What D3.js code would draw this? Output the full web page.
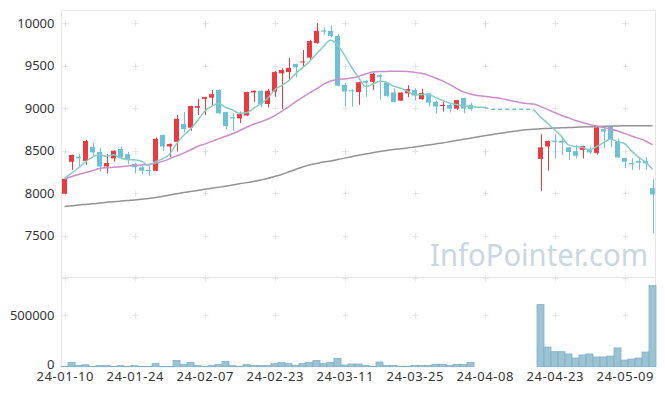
<!DOCTYPE html>
<html>
<head>
<meta charset="utf-8">
<script src="https://cdn.jsdelivr.net/npm/d3@7"></script>
<style>
  body { margin: 0; background: #fff; }
  text { font-family: "Noto Sans", "Open Sans", sans-serif; }
</style>
</head>
<body>
<svg id="chart" width="665" height="396"></svg>
<script>
// trading days (yy-mm-dd)
var dates = [
  '24-01-10','24-01-11','24-01-12','24-01-15','24-01-16','24-01-17','24-01-18','24-01-19','24-01-22','24-01-23',
  '24-01-24','24-01-25','24-01-26','24-01-29','24-01-30','24-01-31','24-02-01','24-02-02','24-02-05','24-02-06',
  '24-02-07','24-02-08','24-02-13','24-02-14','24-02-15','24-02-16','24-02-19','24-02-20','24-02-21','24-02-22',
  '24-02-23','24-02-26','24-02-27','24-02-28','24-02-29','24-03-04','24-03-05','24-03-06','24-03-07','24-03-08',
  '24-03-11','24-03-12','24-03-13','24-03-14','24-03-15','24-03-18','24-03-19','24-03-20','24-03-21','24-03-22',
  '24-03-25','24-03-26','24-03-27','24-03-28','24-03-29','24-04-01','24-04-02','24-04-03','24-04-04','24-04-05',
  '24-04-08','24-04-09','24-04-11','24-04-12','24-04-15','24-04-16','24-04-17','24-04-18','24-04-19','24-04-22',
  '24-04-23','24-04-24','24-04-25','24-04-26','24-04-29','24-04-30','24-05-02','24-05-03','24-05-07','24-05-08',
  '24-05-09','24-05-10','24-05-13','24-05-14','24-05-16'
];

var N = null;
var openP = [
  7995,8370,8430,8380,8545,8485,8315,8410,8520,8460,8345,8305,8275,8265,8685,8550,8605,8815,8770,9005,
  9110,9125,9215,8955,8895,8880,8915,9185,9205,9050,9195,9410,9425,9520,9540,9595,9765,9915,9910,9850,
  9275,9210,9190,9320,9310,9390,9300,9185,9090,9175,9215,9105,9175,9075,9025,9040,8995,9120,9040,N,
  N,N,N,N,N,N,N,N,8405,8550,8620,8615,8540,8495,8510,8510,8475,8755,8790,8605,8415,8355,8380,8380,8060
];
var closeP = [
  8170,8450,8410,8615,8480,8315,8355,8500,8425,8390,8305,8265,8260,8640,8550,8580,8875,8755,9025,9025,
  9130,9165,8940,8790,8880,8930,9190,9205,9050,9205,9425,9450,9475,9480,9550,9790,9910,9900,9850,9265,
  9195,9200,9305,9300,9405,9370,9145,9075,9185,9225,9150,9180,9065,9020,9040,8995,9095,8995,8990,N,
  N,N,N,N,N,N,N,N,8540,8615,8605,8595,8485,8440,8555,8480,8775,8725,8635,8420,8370,8340,8360,8350,7985
];
var highP = [
  8180,8455,8460,8625,8590,8535,8460,8505,8550,8485,8360,8325,8320,8655,8690,8585,8920,8955,9030,9110,
  9135,9215,9220,8960,8940,8960,9195,9210,9210,9225,9440,9470,9590,9525,9685,9805,10000,9950,9970,9870,
  9300,9225,9310,9335,9415,9395,9305,9235,9185,9270,9235,9230,9180,9090,9075,9065,9100,9125,9065,N,
  N,N,N,N,N,N,N,N,8695,8620,8695,8645,8545,8570,8560,8550,8780,8760,8800,8645,8420,8410,8425,8425,8165
];
var lowP = [
  7990,8275,8315,8335,8430,8255,8235,8370,8400,8340,8235,8225,8205,8260,8500,8425,8490,8715,8735,8920,
  8920,9040,8935,8755,8735,8825,8910,9075,9010,9010,9135,8990,9320,9365,9490,9570,9760,9860,9835,9255,
  9020,9020,9040,9135,9215,9100,9135,9070,9085,9130,9090,9100,9020,8935,8960,8950,8980,8940,8970,N,
  N,N,N,N,N,N,N,N,8030,8265,8410,8450,8390,8410,8410,8460,8455,8530,8540,8415,8295,8275,8275,8275,7530
];
var volume = [
  3000,42000,13000,19000,2000,10000,10000,2000,10000,3000,10000,2000,2000,29000,2000,2000,61000,23000,42000,10000,
  3000,10000,23000,52000,10000,3000,22000,12000,10000,11000,29000,39000,29000,14000,29000,42000,61000,29000,40000,81000,
  16000,26000,26000,13000,4000,45000,13000,13000,4000,4000,13000,13000,13000,23000,23000,13000,23000,23000,42000,N,
  N,N,N,N,N,N,N,N,600000,190000,145000,145000,123000,84000,113000,123000,94000,94000,103000,181000,64000,74000,84000,142000,783000
];

// moving averages as drawn (5, 20, 60 days)
var ma5 = [
  8175,8235,8300,8370,8425,8454,8435,8452,8414,8396,8395,8377,8330,8373,8404,8459,8581,8679,8756,8852,
  8962,9020,9057,9011,8981,8941,8946,8999,9050,9115,9215,9267,9321,9406,9475,9548,9640,9726,9800,9744,
  9624,9482,9363,9254,9281,9316,9305,9260,9236,9200,9155,9162,9160,9127,9091,9060,9043,9029,9023,9012,
  9011,8989,8988,8988,8988,8988,8988,8988,8898,8824,8748,8669,8569,8549,8537,8511,8548,8595,8634,8607,
  8585,8498,8425,8367,8280
];
var ma20 = [
  8168,8197,8221,8243,8267,8290,8300,8306,8313,8320,8326,8333,8339,8354,8375,8404,8439,8472,8509,8550,
  8578,8610,8640,8670,8700,8735,8776,8811,8840,8870,8911,8964,9016,9075,9127,9180,9227,9280,9321,9339,
  9345,9356,9374,9403,9427,9433,9433,9435,9435,9433,9424,9410,9386,9356,9321,9280,9233,9192,9168,9150,
  9141,9130,9121,9103,9086,9068,9056,9050,9021,8986,8950,8915,8886,8856,8833,8809,8792,8774,8756,8733,
  8704,8674,8645,8615,8568
];
var ma60 = [
  7845,7853,7862,7869,7876,7885,7893,7901,7908,7915,7922,7930,7939,7949,7964,7980,7995,8008,8021,8033,
  8046,8059,8071,8083,8097,8112,8125,8139,8156,8174,8197,8221,8250,8280,8309,8333,8350,8368,8380,8396,
  8413,8429,8446,8462,8476,8490,8503,8515,8523,8533,8545,8556,8568,8580,8592,8606,8620,8634,8648,8662,
  8676,8689,8702,8715,8727,8738,8747,8754,8759,8762,8766,8769,8773,8776,8780,8782,8785,8787,8789,8792,
  8793,8794,8795,8795,8795
];

var priceTicks = [7500, 8000, 8500, 9000, 9500, 10000];
var volumeTicks = [0, 500000];
var dateTicks = dates.filter(function(d, i) { return i % 10 === 0; });

var UP = '#ea3a40', DOWN = '#6cc1d9';

var svg = d3.select('#chart');
var L = 61.5, R = 655.5, T = 10.5, MID = 277.5, B = 367;

var x = d3.scalePoint().domain(dates).range([64.5, 652.5]);
var y = d3.scaleLinear().domain([7000, 10155]).range([278.3, 10]);
var yv = d3.scaleLinear().domain([0, 864000]).range([366.7, 277.3]);

// grid crosses
var crossY = [7000].concat(priceTicks).map(y).concat([yv(500000)]);
var grid = svg.append('g').attr('stroke', '#e4e4e4').attr('stroke-width', 1);
dateTicks.forEach(function(d) {
  crossY.forEach(function(cy) {
    var cx = Math.round(x(d)) + 0.5, yy = Math.round(cy) + 0.5;
    grid.append('path').attr('d', 'M' + (cx - 3) + ',' + yy + 'H' + (cx + 3) + 'M' + cx + ',' + (yy - 3) + 'V' + (yy + 3));
  });
});

// frame
svg.append('path')
  .attr('d', 'M' + L + ',' + B + 'V' + T + 'H' + R + 'V' + B + 'M' + L + ',' + MID + 'H' + R)
  .attr('fill', 'none').attr('stroke', '#e6e6e6').attr('stroke-width', 1);

// watermark
svg.append('text').attr('x', 430).attr('y', 266)
  .attr('font-size', 31).attr('fill', '#c9d7e2')
  .attr('textLength', 218).attr('lengthAdjust', 'spacingAndGlyphs')
  .text('InfoPointer.com');

// volume bars
var idx = d3.range(dates.length);
svg.append('g').selectAll('rect').data(idx.filter(function(i) { return volume[i] != null; })).join('rect')
  .attr('x', function(i) { return x(dates[i]) - 3.5; })
  .attr('width', 7)
  .attr('y', function(i) { return yv(volume[i]); })
  .attr('height', function(i) { return yv(0) - yv(volume[i]); })
  .attr('fill', '#9cc3d4').attr('stroke', '#80afc4').attr('stroke-width', 0.8);

// candles
var candles = svg.append('g').selectAll('g').data(idx.filter(function(i) { return openP[i] != null; })).join('g')
  .attr('fill', function(i) { return closeP[i] >= openP[i] ? UP : DOWN; })
  .attr('stroke', function(i) { return closeP[i] >= openP[i] ? UP : DOWN; });
candles.append('line')
  .attr('x1', function(i) { return Math.round(x(dates[i])) + 0.5; })
  .attr('x2', function(i) { return Math.round(x(dates[i])) + 0.5; })
  .attr('y1', function(i) { return y(highP[i]); })
  .attr('y2', function(i) { return y(lowP[i]); })
  .attr('stroke-width', 1);
candles.append('rect')
  .attr('x', function(i) { return x(dates[i]) - 2.5; })
  .attr('width', 5)
  .attr('y', function(i) { return y(Math.max(openP[i], closeP[i])); })
  .attr('height', function(i) { return Math.max(1, Math.abs(y(openP[i]) - y(closeP[i]))); })
  .attr('stroke', 'none');

// moving average lines
function maLine(arr, from, to) {
  return d3.line()
    .defined(function(i) { return i >= from && i <= to; })
    .x(function(i) { return x(dates[i]); })
    .y(function(i) { return y(arr[i]); })
    .curve(d3.curveMonotoneX)(idx);
}
var lines = svg.append('g').attr('fill', 'none').attr('stroke-width', 1.5);
lines.append('path').attr('d', maLine(ma60, 0, 84)).attr('stroke', '#939393');
lines.append('path').attr('d', maLine(ma20, 0, 84)).attr('stroke', '#cd8cca');
lines.append('path').attr('d', maLine(ma5, 0, 60)).attr('stroke', '#86ccc2');
lines.append('path').attr('d', maLine(ma5, 60, 67)).attr('stroke', '#74c2b8').attr('stroke-dasharray', '4,3');
lines.append('path').attr('d', maLine(ma5, 67, 84)).attr('stroke', '#86ccc2');

// axes
function styleAxis(g) {
  g.select('.domain').remove();
  g.selectAll('text').attr('font-size', 13).attr('fill', '#333');
}
svg.append('g').attr('transform', 'translate(' + L + ',0)')
  .call(d3.axisLeft(y).tickValues(priceTicks).tickSize(0).tickPadding(7).tickFormat(d3.format('d')))
  .call(styleAxis);
var vAxis = svg.append('g').attr('transform', 'translate(' + L + ',0)')
  .call(d3.axisLeft(yv).tickValues(volumeTicks).tickSize(0).tickPadding(7).tickFormat(d3.format('d')))
  .call(styleAxis);
vAxis.selectAll('text').attr('dy', function(d) { return d === 0 ? '0.1em' : '0.32em'; });
svg.append('g').attr('transform', 'translate(0,' + B + ')')
  .call(d3.axisBottom(x).tickValues(dateTicks).tickSize(0).tickPadding(5))
  .call(styleAxis)
  .selectAll('text').attr('textLength', 57).attr('lengthAdjust', 'spacing');
</script>
</body>
</html>
